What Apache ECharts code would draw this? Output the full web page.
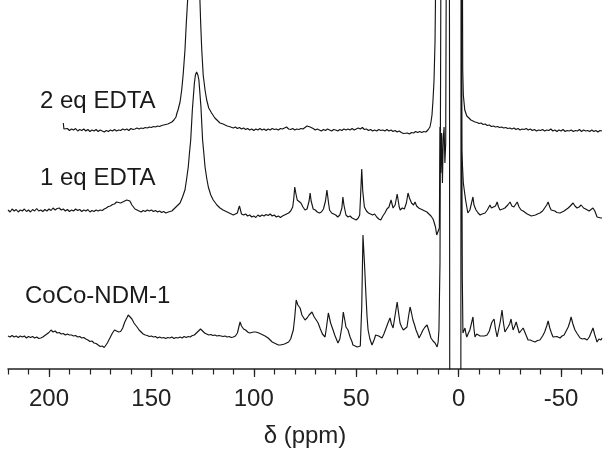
<!DOCTYPE html>
<html>
<head>
<meta charset="utf-8">
<script src="https://cdn.jsdelivr.net/npm/echarts@6/dist/echarts.min.js"></script>
<style>html,body{margin:0;padding:0;background:#fff}#c{width:611px;height:453px}</style>
</head>
<body>
<div id="c"></div>
<script>
// Trace labels
const traceNames = ['2 eq EDTA', '1 eq EDTA', 'CoCo-NDM-1'];
// Vertical offsets of each trace baseline (intensity units)
const offsets = [239, 156, 32];
// Axis tick labels (ppm)
const majorTicks = [200, 150, 100, 50, 0, -50];

// 2 eq EDTA  [ppm, intensity]
const eq2 = [[193,7],[192.7,1],[192,0],[191,1.5],[190,-0.5],[189,1],[188,0],[187,1.5],[186,-1],[185,0.5],[184,-0.5],[183,1],[182,-1],[181,0.5],[180,-1.5],[179,0],[178,-1],[177,0.5],[176,-1.5],[175,0],[174,-1],[173,-2],[172,-0.5],[171,-1.5],[170,0],[169,-1],[168,0.5],[167,-1],[166,0],[165,-0.5],[164,1],[163,0],[162,1],[161,-0.5],[160,1.5],[159,0.5],[158,1],[157,2],[156,1],[155,2],[154,1.5],[153,2.5],[152,2],[151,3],[150,2.5],[149,3.5],[148,3],[147,4],[146,3.5],[145,4.5],[144,5],[143,5.5],[142,6],[141,7],[140,8],[139,10],[138,13],[137.5,17],[137,20],[136,28],[135.2,40],[134.5,55],[133.6,80],[133,105],[132.3,130],[131.5,180],[130.5,260],[129.5,320],[129,330],[128.5,320],[127.5,260],[126.8,180],[126.3,130],[125.9,105],[125.4,80],[124.7,55],[123.8,40],[123,30],[122,22],[120.6,17],[119,12],[118,10],[116.5,7],[115,6],[113,4],[112,3.5],[110,2],[109,3],[108,1.5],[107,2.5],[106,1],[105,2],[104,0.5],[103,1.5],[102,0],[101,1],[100,-0.5],[99,1],[98,0],[97,1.5],[96,0],[95,1],[94,-0.5],[93,1],[92,0],[91,1.5],[90,0.5],[89,1],[88,0],[87,1.5],[86,1],[85,2],[84,3],[83,1],[82,0.5],[81,1.5],[80,0],[79,1],[78,0.5],[77,1.5],[76,1],[75,2.5],[74,4],[73.4,6],[72.5,3],[71,1.5],[70,0],[69,1],[68,0],[67,-1],[66,0.5],[65,-0.5],[64,1],[63,0],[62,-1],[61,0.5],[60,0],[59,-1],[58,0.5],[57,-0.5],[56,1],[55,0],[54,1],[53,0],[52,1.5],[51,0],[50,1],[49,2],[48,1],[47,2.5],[46,0.5],[45,1],[44,-0.5],[43,0.5],[42,-1],[41,0],[40,-1],[39,0.5],[38,-0.5],[37,0],[36,-1],[35,0.5],[34,-1],[33,0],[32,-1.5],[31,-0.5],[30,-2],[29,-1],[28,-2.5],[27,-3.5],[26.2,-5],[25,-3],[24,-4],[23,-2.5],[22,-3],[21,-1.5],[20,-2.5],[19,-1.5],[18,-2.5],[17,-1.5],[16,-2],[15,0],[14,3],[13.5,8],[13,15],[12.5,30],[12,50],[11.5,90],[11.2,150],[11,300],[10,500],[5,500],[0,500],[-1.6,500],[-1.8,200],[-2,60],[-2.3,35],[-3,20],[-4,14],[-5,12],[-6,10],[-7,9],[-8,8],[-9,7.5],[-10,6.5],[-11,7],[-12,5.5],[-13,6],[-14,4.5],[-15,5],[-16,3.5],[-17,4],[-18,3],[-19,3.5],[-20,2.5],[-21,3],[-22,2],[-23,2.5],[-24,1.5],[-25,2],[-26,1],[-27,2],[-28,0.5],[-29,1.5],[-30,0],[-31,1],[-32,0.5],[-33,1.5],[-34,0],[-35,1],[-36,-0.5],[-37,0.5],[-38,-1],[-39,0],[-40,-0.5],[-41,0.5],[-42,-1],[-43,0],[-44,-0.5],[-45,1],[-46,-1],[-47,0],[-48,-1.5],[-49,0],[-50,-1],[-51,0.5],[-52,-1.5],[-53,-0.5],[-54,-1],[-55,0],[-56,-1.5],[-57,-0.5],[-58,-1],[-59,0.5],[-60,-1.5],[-61,0],[-62,-1],[-63,-0.5],[-64,-1.5],[-65,0],[-66,-1.5],[-67,-0.5],[-68,-2],[-69,-0.5],[-70,-1]];

// 1 eq EDTA  [ppm, intensity]
const eq1 = [[220,3],[219,1],[218,4],[217,2],[216,3.5],[215,1],[214,3],[213,2],[212,4],[211,1.5],[210,3],[209,1],[208,3.5],[207,2],[206,4.5],[205,2],[204,3],[203,1.5],[202,3.5],[201,2],[200,4],[199,2.5],[198,5],[197,3],[196,4.5],[195,5],[194,3],[193,4],[192,2],[191,3.5],[190,1.5],[189,3],[188,2],[187,4],[186,2.5],[185,3.5],[184,1.5],[183,3],[182,2],[181,3.5],[180,1],[179,2.5],[178,1.5],[177,3],[176,2],[175,3],[174,2.5],[173,4],[172,5],[171,6.5],[170,7],[169,8.5],[168,9],[167,11],[166,10.5],[165,10],[164,11],[163,12],[162,13],[161.4,14.5],[160.5,12],[159.5,8],[159,6],[158,4],[157,3],[156,2],[155,1],[154,2.5],[153,1.5],[152,3],[151,2],[150,3],[149,1.5],[148,2.5],[147,1],[146,2],[145,0.5],[144,1.5],[143,0],[142.5,0.5],[141,1.5],[140,2],[139.3,3],[138,6],[136,10],[134.8,16],[133.6,23],[132.8,34],[132,46],[131.4,60],[130.8,73],[130,103],[129,130],[128.5,138],[127.9,141],[127.3,138],[126.8,133],[125.8,106],[125,73],[124.4,60],[123.8,46],[123,35],[122.2,26],[121,18],[119.8,13],[118,8],[116.5,5],[115,3],[114,2],[113,1],[112,0],[111,-1],[110,-2],[109,-1],[108,0],[107.5,4],[107,7],[106.5,3],[106,-1],[105,-2],[104,-1],[103,-3],[102,-2],[101,-4],[100,-3],[99,-4.5],[98,-2],[97,-3.5],[96,-2],[95,-3],[94,-1.5],[93,-2.5],[92,-1],[91,-3],[90,-2],[89,-4],[88,-3],[87,-4.5],[86,-3],[85,-2],[84,-1],[83,0],[82,2],[81,6],[80.5,14],[80,26],[79.5,20],[78.8,13],[78,11],[77,10],[76,6],[75,3],[74,4],[73,12],[72.5,20],[72,12],[71,4],[70,3],[69,1],[68,0],[67,1],[66,4],[65,12],[64.3,23],[63.5,10],[63,3],[62,0],[61,-1],[60,-2],[59,-4],[58,-2],[57,5],[56.5,16],[56,8],[55,-2],[54,-4],[53,-3],[52,-5],[51,-6],[50,-7],[49,-5],[48.3,-2],[47.8,20],[47.3,44],[46.8,22],[46,6],[45,2],[44,0],[43,-1],[42,-2],[41,-1],[40,-4],[39,-6],[38,-7],[37,-3],[36,0],[35,4],[34,6],[33,13],[32,5],[31,8],[30,19],[29,6],[28.5,3],[27.5,5],[26.5,4],[25.5,10],[24.7,20],[24,15],[23,10],[22,8],[21.3,11],[20.5,7],[19.5,5],[18.5,4],[17.5,3],[16.5,2],[15.5,1],[14.5,-1],[13.5,-3],[12.5,-6],[12,-9],[11.3,-14],[10.7,-22],[10,-20],[9.4,-15],[9.1,86],[8.7,40],[8.3,80],[7.9,30],[7.5,75],[7.1,86],[6.7,50],[6.3,70],[5.8,400],[0.5,400],[-1.4,400],[-1.5,63],[-2.3,30],[-3.4,13],[-4.5,0],[-5.5,3],[-6.3,10],[-7,16],[-7.5,8],[-8.5,3],[-9.5,0],[-10.5,-2],[-11.5,-1],[-12.9,0],[-14,3],[-15.3,8],[-16,5],[-16.8,3],[-18,7],[-18.8,11],[-19.5,6],[-20.2,3],[-21.5,4],[-22.6,5],[-24,8],[-25.1,11],[-26,7],[-27,6],[-27.8,8],[-28.6,11],[-29.5,6],[-30.5,3],[-31.5,2],[-32.4,0],[-33.5,-1],[-34.5,-2],[-35.5,-3],[-36.4,-4],[-37.5,-2],[-38.5,-1],[-39.7,0],[-41,2],[-42,5],[-43,8],[-43.7,11],[-44.5,6],[-45.2,3],[-46.1,1],[-47,2],[-48,0.5],[-49.5,0],[-50.5,1],[-51.5,2],[-52.4,3],[-53.5,5],[-54.5,7],[-55.9,10],[-56.8,7],[-57.8,5],[-58.8,6],[-59.8,8],[-61,5],[-62,4],[-62.7,3],[-63.7,2],[-64.6,3],[-65.6,5],[-66.5,2],[-67.6,-4],[-68.5,-3],[-69.5,-5],[-70,-5]];

// CoCo-NDM-1  [ppm, intensity]
const coco = [[220,1],[219,0],[218,1.5],[217,0],[216,1],[215,-0.5],[214,1],[213,0],[212,1],[211,-1],[210,0.5],[209,-0.5],[208,0.5],[207,-1],[206,0],[205,-1.5],[204,-1],[203,0],[202,1.5],[201,3],[200,4.5],[199,7],[198,5],[197,6],[196,4],[195,4.5],[194,3],[193,3.5],[192,2],[191,3],[190,2],[189,2],[188,1],[187,1.5],[186,0],[185,0.5],[184,-1],[183,-0.5],[182,-2],[181,-3],[180,-4.5],[179,-4],[178,-6],[177,-6.5],[176,-8],[175,-9.5],[174,-9],[173,-10.5],[172.5,-10],[171.5,-6],[170,0],[169,4],[168,7],[167,6],[166,5],[165,5.5],[164,9],[163,15],[162,19],[161.3,22],[160.5,20],[159.5,18],[158.5,14],[157,10],[156,7],[155,5],[154,3],[153,2],[152,1.5],[151,0.5],[150,1],[149,0],[148,0.5],[147,-1],[146,0],[145,-1],[144,-0.5],[143,-1.5],[142,-0.5],[141,-1],[140,0],[139,-1.5],[138,-0.5],[137,-1],[136,0],[135,-1],[134,0.5],[133,-0.5],[132,0.5],[131,0],[130,1.5],[129,2],[128,4],[127,6],[126,8],[125,6],[124,4],[123,3],[122,2],[121,2.5],[120,1.5],[119,2],[118,1],[117,1.5],[116.5,1],[115,0.5],[114,1],[113,0],[112,0.5],[111,-0.5],[110,0],[109,1],[108,4],[107.3,10],[106.7,15],[106,11],[105,8],[104,7],[103,5],[102,4],[101,4.5],[100,5],[99,5],[98.5,5],[97.5,4],[96.5,3],[95.5,2],[94.5,1],[93,-1],[92,-3],[91,-5],[90,-6],[89,-7],[88,-8],[87,-8],[86,-7.5],[85,-7],[84,-6],[83,-5],[82,-2],[81.3,3],[80.7,7],[80,20],[79.3,37],[78.5,32],[77.4,29],[76.5,22],[75,17],[74,19],[73,22],[71.6,25],[70.5,20],[69.5,17],[68.6,14],[67.5,8],[66.5,3],[65.2,0],[64.5,10],[63.6,24],[62.5,14],[61.3,7],[60.5,2],[59.5,-3],[58.9,-6],[58,-2],[57,10],[56.3,25],[55.5,16],[55,10],[54,7],[53,0],[52,-5],[51.6,-8],[50.5,-9],[49.5,-10],[49,-11],[48,-9],[47.3,30],[46.7,102],[46,75],[45.2,40],[44.7,20],[44.2,7],[43.3,-2],[42.3,-8],[41.3,-3],[40.5,2],[39.8,4],[39,1],[38.2,0],[37.4,-1],[36.5,3],[35.4,9],[34.5,14],[33.5,19],[32.8,13],[32,9],[31,22],[30,35],[29.3,24],[28.6,14],[27.8,10],[27,7],[26.2,9],[25.2,10],[24.5,20],[23.7,30],[23,24],[22.3,17],[21.5,12],[20.8,7],[20,3],[19.3,-1],[18.3,3],[17.4,7],[16.4,10],[15.4,12],[14.5,6],[13.5,-1],[12.5,-4],[11.5,-6],[10.5,-10],[10,-5],[9.6,7],[9.1,74],[8.6,400],[4.5,400],[4.2,-400],[-1,-400],[-1.2,400],[-1.6,400],[-1.8,60],[-2.1,4],[-2.6,6],[-3.1,9],[-3.6,3],[-4,0],[-4.8,4],[-5.5,7],[-6.3,14],[-7,20],[-7.5,8],[-8,0],[-8.8,3],[-9.5,4],[-10.5,1],[-11.4,0],[-12.6,1],[-13.9,2],[-15,6],[-15.8,12],[-16.3,15],[-16.8,14],[-17.3,18],[-18,8],[-18.8,0],[-19.6,8],[-20.4,16],[-21.2,27],[-21.9,14],[-22.6,5],[-23.4,7],[-24.1,10],[-24.9,13],[-25.6,18],[-26.1,12],[-26.6,7],[-27.4,11],[-28.1,15],[-28.9,9],[-29.6,4],[-30.5,6],[-31.5,9],[-32.5,4],[-33.9,-3],[-35,-3],[-36,-4],[-37.3,-5],[-38.5,-3.5],[-39.7,-3],[-41,1],[-42,5],[-43,11],[-43.7,16],[-44.5,9],[-45.3,4],[-46.1,0],[-47,-0.5],[-48,0.5],[-49.5,-1],[-50.5,1],[-51.5,2],[-52.4,4],[-53.5,10],[-54.3,15],[-54.9,20],[-55.8,13],[-56.8,7],[-58,3],[-59.3,-1],[-60.5,-2],[-61.5,-1.5],[-62.7,-3],[-63.8,0],[-64.8,5],[-65.6,9],[-66.5,2],[-67.6,-5],[-68.5,-2],[-69.5,-3],[-70,-1]];

const traces = [eq2, eq1, coco];
const FONT = '"Liberation Sans", Arial, sans-serif';

const chart = echarts.init(document.getElementById('c'), null, {renderer: 'canvas'});
const labelPos = [[40, 101.5], [40, 178.5], [25, 296.5]];

chart.setOption({
  animation: false,
  backgroundColor: '#fff',
  grid: {left: 8, right: 9, top: 0, bottom: 84, containLabel: false},
  xAxis: [
    {
      type: 'value', min: -70, max: 220, inverse: true, position: 'bottom',
      axisLine: {show: true, lineStyle: {color: '#222', width: 1.5}},
      axisTick: {show: true, length: 8, customValues: majorTicks, lineStyle: {color: '#222', width: 1.2}},
      axisLabel: {show: true, customValues: majorTicks, fontSize: 24, fontFamily: FONT, color: '#222', margin: 18},
      splitLine: {show: false},
      name: 'δ (ppm)', nameLocation: 'middle', nameGap: 55,
      nameTextStyle: {fontSize: 24, fontFamily: FONT, color: '#222'}
    },
    {
      type: 'value', min: -70, max: 220, interval: 10, inverse: true, position: 'bottom',
      axisLine: {show: false},
      axisTick: {show: true, length: 5.5, lineStyle: {color: '#222', width: 1.2}},
      axisLabel: {show: false},
      splitLine: {show: false}
    }
  ],
  yAxis: {type: 'value', min: 0, max: 369, show: false, splitLine: {show: false}},
  graphic: traceNames.map((t, i) => ({
    type: 'text', x: labelPos[i][0], y: labelPos[i][1], silent: true,
    style: {text: t, fontSize: 24, fontFamily: FONT, fill: '#1a1a1a',
            textVerticalAlign: 'middle', verticalAlign: 'middle'}
  })),
  series: traces.map((tr, i) => ({
    type: 'line', name: traceNames[i], xAxisIndex: 0, yAxisIndex: 0,
    showSymbol: false, symbol: 'none', clip: true, silent: true,
    lineStyle: {color: '#151515', width: 1.15},
    data: tr.map(p => [p[0], p[1] + offsets[i]])
  }))
});
</script>
</body>
</html>
